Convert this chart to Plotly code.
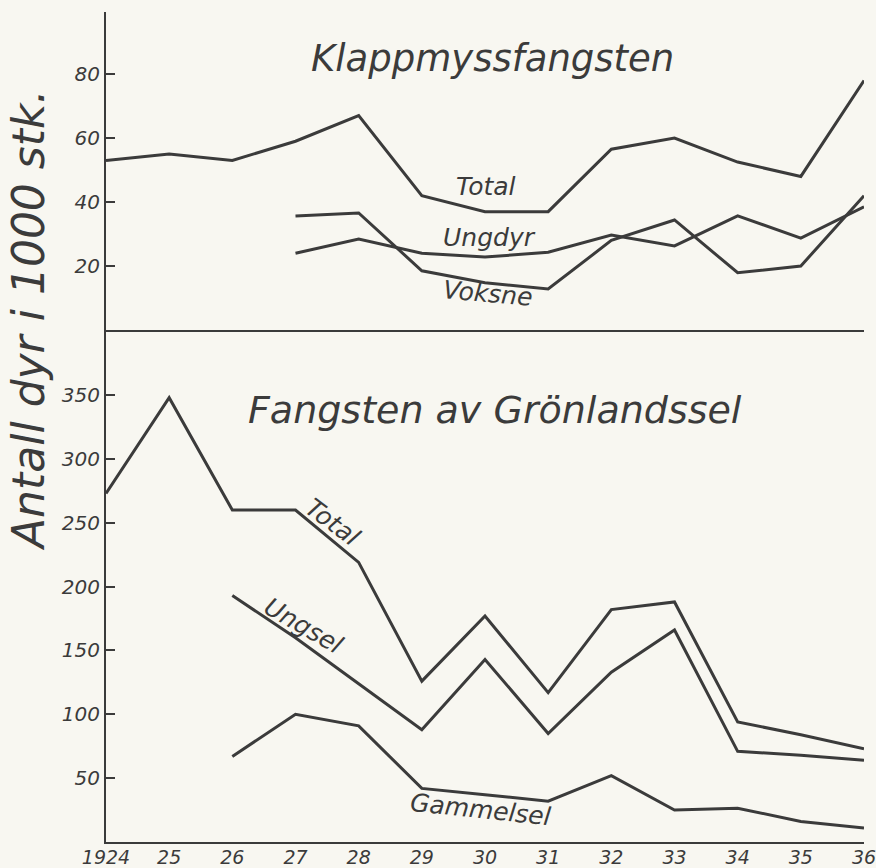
import plotly.graph_objects as go

years = [1924, 1925, 1926, 1927, 1928, 1929, 1930, 1931, 1932, 1933, 1934, 1935, 1936]
year_labels = ["1924", "25", "26", "27", "28", "29", "30", "31", "32", "33", "34", "35", "36"]

# Klappmyssfangsten (thousands)
klapp_total = [53, 55, 53, 59, 67, 42, 37, 37, 56.5, 60, 52.5, 48, 78]
klapp_years_sub = [1927, 1928, 1929, 1930, 1931, 1932, 1933, 1934, 1935, 1936]
klapp_ungdyr = [24, 28.4, 24, 22.8, 24.3, 29.7, 26.3, 35.7, 28.7, 38.5]
klapp_voksne = [35.6, 36.6, 18.5, 14.8, 12.8, 28, 34.4, 17.9, 20, 42]

# Fangsten av Grönlandssel (thousands)
gron_total = [273, 348, 260, 260, 219, 126, 177, 117, 182, 188, 94, 84, 73]
gron_years_sub = [1926, 1927, 1928, 1929, 1930, 1931, 1932, 1933, 1934, 1935, 1936]
gron_ungsel = [193, 160, 124, 88, 143, 85, 133, 166, 71, 68, 64]
gron_gammelsel = [67, 100, 91, 42, 37, 32, 52, 25, 26.5, 16, 11]

top_ticks = [20, 40, 60, 80]
bottom_ticks = [50, 100, 150, 200, 250, 300, 350]

INK = "#3b3b3b"
PAPER = "#f8f7f1"
FONT = "DejaVu Sans"
LW = 3

fig = go.Figure()

def add_line(x, y, xa, ya):
    fig.add_trace(go.Scatter(x=x, y=y, mode="lines", xaxis=xa, yaxis=ya,
                             line=dict(color=INK, width=LW), showlegend=False,
                             hoverinfo="skip"))

add_line(years, klapp_total, "x2", "y2")
add_line(klapp_years_sub, klapp_ungdyr, "x2", "y2")
add_line(klapp_years_sub, klapp_voksne, "x2", "y2")
add_line(years, gron_total, "x", "y")
add_line(gron_years_sub, gron_ungsel, "x", "y")
add_line(gron_years_sub, gron_gammelsel, "x", "y")

split = 512 / 830

ytickfont = dict(family=FONT, size=20, color=INK, style="italic")
xtickfont = dict(family=FONT, size=19, color=INK, style="italic")

fig.update_layout(
    width=876, height=868,
    margin=dict(l=106, r=12, t=12, b=26),
    paper_bgcolor=PAPER, plot_bgcolor=PAPER,
    showlegend=False,
    xaxis=dict(domain=[0, 1], range=[1924, 1936], anchor="y",
               tickvals=years, ticktext=year_labels, ticks="",
               showgrid=False, zeroline=False, showline=True,
               linecolor=INK, linewidth=2, tickfont=xtickfont,
               ticklabelstandoff=-3, automargin=False, ticklabeloverflow="allow"),
    yaxis=dict(domain=[0, split], range=[0, 401], anchor="x",
               tickvals=bottom_ticks, ticks="inside", ticklen=9, tickwidth=2, tickcolor=INK,
               showgrid=False, zeroline=False, showline=True, automargin=False,
               linecolor=INK, linewidth=2, tickfont=ytickfont),
    xaxis2=dict(domain=[0, 1], range=[1924, 1936], anchor="y2", matches="x",
                showticklabels=False, ticks="", showgrid=False, zeroline=False,
                showline=True, linecolor=INK, linewidth=2, automargin=False),
    yaxis2=dict(domain=[split, 1], range=[0, 99.4], anchor="x2",
                tickvals=top_ticks, ticks="inside", ticklen=9, tickwidth=2, tickcolor=INK,
                showgrid=False, zeroline=False, showline=True, automargin=False,
                linecolor=INK, linewidth=2, tickfont=ytickfont),
)

W, H = 876, 868
L, R, T, B = 106, 12, 12, 26
pw, ph = W - L - R, H - T - B

def txt(text, x, y, size, angle=0):
    fig.add_annotation(text=text, x=(x - L) / pw, y=(H - B - y) / ph,
                       xref="paper", yref="paper",
                       xanchor="center", yanchor="middle", showarrow=False,
                       textangle=angle,
                       font=dict(family=FONT, size=size, color=INK, style="italic"))

# titles
txt("Klappmyssfangsten", 492, 58, 37)
txt("Fangsten av Grönlandssel", 495, 410, 38)

# line labels top panel
txt("Total", 486, 187, 25)
txt("Ungdyr", 489, 237, 25)
txt("Voksne", 488, 293, 25, 5)

# line labels bottom panel
txt("Total", 333, 522, 25, 37)
txt("Ungsel", 303, 625, 25, 30)
txt("Gammelsel", 480, 809, 25, 6)

# y axis title
txt("Antall dyr i 1000 stk.", 28, 320, 44, -90)

fig.write_html("out.html", config={"displayModeBar": False},
               post_script="document.body.style.margin='0';document.body.style.background='#f8f7f1';")
